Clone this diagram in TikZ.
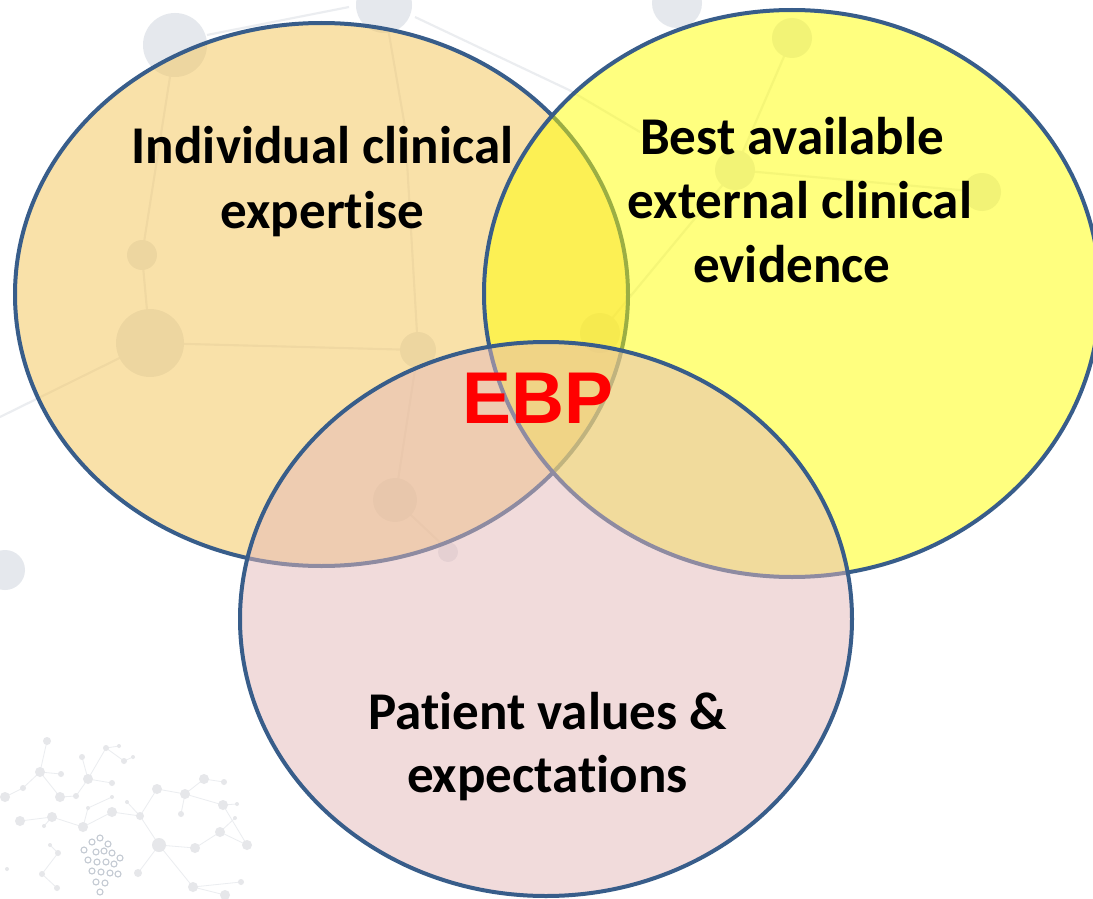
\documentclass[tikz,border=0pt]{standalone}
\usepackage{fontspec}
\setmainfont{Carlito}[Ligatures=NoCommon]
\newfontfamily\arialfont{Liberation Sans}
\usetikzlibrary{shapes.geometric}
\definecolor{bord}{HTML}{385D8A}
\definecolor{lfill}{HTML}{F5C555}
\definecolor{rfill}{HTML}{FFFF00}
\definecolor{pfill}{HTML}{E5B9B9}
\definecolor{netgrey}{HTML}{E5E8ED}
\definecolor{netline}{HTML}{EBEDF0}
\definecolor{smgrey}{HTML}{E6E7EA}
\definecolor{clustgrey}{HTML}{C3C9D2}
\definecolor{ebpred}{HTML}{FF0000}
\tikzset{
  venn/.style={ellipse, draw=bord, line width=3pt, fill opacity=0.5, draw opacity=1, inner sep=0pt},
  lbl/.style={font=\bfseries\fontsize{39.8}{46}\selectfont, text=black, anchor=base, inner sep=0pt},
  bgdot/.style={fill=netgrey},
  bgline/.style={draw=netline, line width=1.6pt},
  smdot/.style={fill=smgrey, draw=none},
  smline/.style={draw=netline, line width=0.6pt}
}
\begin{document}
\begin{tikzpicture}[x=0.75pt,y=-0.75pt]
\useasboundingbox (0,0) rectangle (1093,899);
\fill[white] (0,0) rectangle (1093,899);
% ---- faint background network ----
\draw[bgline] (207,35) -- (349,7);
\draw[bgline] (415,17) -- (569,90) -- (640,132);
\draw[bgline] (175,45) -- (142,255) -- (150,343);
\draw[bgline] (0,417) -- (150,343) -- (418,350);
\draw[bgline] (384,5) -- (405,127) -- (418,350) -- (395,500) -- (448,550);
\draw[bgline] (792,38) -- (735,170) -- (982,192);
\draw[bgline] (735,170) -- (600,333);
\fill[bgdot] (175,45) circle (32);
\fill[bgdot] (384,5) circle (28);
\fill[bgdot] (677,3) circle (25);
\fill[bgdot] (142,255) circle (15);
\fill[bgdot] (150,343) circle (34);
\fill[bgdot] (418,350) circle (18);
\fill[bgdot] (395,500) circle (22);
\fill[bgdot] (448,552) circle (10);
\fill[bgdot] (792,38) circle (20);
\fill[bgdot] (735,170) circle (20);
\fill[bgdot] (982,192) circle (19);
\fill[bgdot] (600,333) circle (20);
\fill[bgdot] (5,570) circle (20);
% bottom-left small network
\draw[smline] (47,741) -- (40,772) -- (61,774);
\draw[smline] (40,772) -- (23,788) -- (5,797);
\draw[smline] (40,772) -- (60,797) -- (76,796) -- (88,779) -- (82,757);
\draw[smline] (88,779) -- (106,748) -- (124,761) -- (133,757);
\draw[smline] (106,748) -- (119,746);
\draw[smline] (88,779) -- (112,783);
\draw[smline] (112,797) -- (88,808) -- (83,827) -- (112,812);
\draw[smline] (83,827) -- (52,817) -- (20,821);
\draw[smline] (52,817) -- (44,826);
\draw[smline] (127,802) -- (140,816) -- (157,789) -- (185,794) -- (204,779) -- (224,782);
\draw[smline] (185,794) -- (223,805) -- (237,804);
\draw[smline] (181,814) -- (185,794);
\draw[smline] (140,816) -- (159,845) -- (195,848) -- (220,832) -- (247,845);
\draw[smline] (220,832) -- (235,818);
\draw[smline] (223,805) -- (247,845);
\draw[smline] (159,845) -- (193,887) -- (225,895);
\draw[smline] (193,887) -- (241,882);
\draw[smline] (50,845) -- (58,853) -- (42,874) -- (57,888);
\draw[smline] (138,873) -- (159,845);
\draw[smline] (112,812) -- (140,816);
\foreach \a/\b/\r in {47/741/4,40/772/5,61/774/3,23/788/3,5/797/5,60/797/5,76/796/3,88/779/5,82/757/3,106/748/3,124/761/3,133/757/2,119/746/2,112/783/3,112/797/2,88/808/2,112/812/5,83/827/5,52/817/5,20/821/5,44/826/2,127/802/2,140/816/4,157/789/5,185/794/5,204/779/5,224/782/3,223/805/5,237/804/2,181/814/3,235/818/2,220/832/5,247/845/5,195/848/5,159/845/7,58/853/3,50/845/2,42/874/3,7/869/2,57/888/3,138/873/4,193/887/5,225/895/5,241/882/3}{
  \fill[smdot] (\a,\b) circle (\r);
}
% cluster
\foreach \a/\b in {92/842,100/838,108/844,96/852,104/851,112/853,88/860,97/862,106/862,114/864,92/871,101/872,110/873,96/882,105/883,100/892,118/874,84/850,120/858}{
  \draw[clustgrey, line width=0.8pt] (\a,\b) circle (3);
}
% ---- Venn ellipses ----
\node[venn, fill=lfill, minimum width=459.75pt, minimum height=407.25pt] (L) at (321.5,294.5) {};
\node[venn, fill=rfill, minimum width=462pt, minimum height=425.25pt] (R) at (792,293.5) {};
\node[venn, fill=pfill, minimum width=459pt, minimum height=415.5pt] (P) at (546,619) {};
% ---- labels ----
\node[lbl] (l1) at (322.5,163) {Individual clinical};
\node[lbl] (l2) at (322.5,228) {expertise};
\node[lbl] (r1) at (792,155) {Best available};
\node[lbl] (r2) at (800,218) {external clinical};
\node[lbl] (r3) at (792,282) {evidence};
\node[lbl] (p1) at (547.5,729) {Patient values \&};
\node[lbl] (p2) at (547.5,792) {expectations};
\node[font=\arialfont\bfseries\fontsize{55}{60}\selectfont, text=ebpred, inner sep=0pt] (ebp) at (538,398) {EBP};
\end{tikzpicture}
\end{document}
